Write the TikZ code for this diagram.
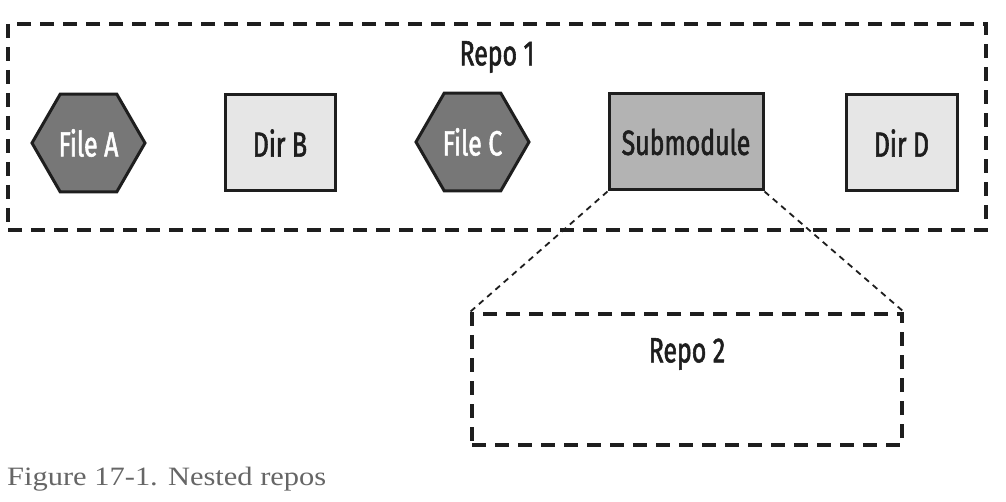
\documentclass[tikz,border=0pt]{standalone}
\usepackage{fontspec}
\usetikzlibrary{shapes.geometric}
\newfontfamily\dfont[FakeStretch=0.71,FakeBold=1.6]{Fira Sans}
\newfontfamily\capfont[FakeStretch=1.15]{Liberation Serif}
\definecolor{hexfill}{HTML}{777777}
\definecolor{dirfill}{HTML}{E6E6E6}
\definecolor{subfill}{HTML}{B3B3B3}
\definecolor{inkc}{HTML}{1E1E1E}
\definecolor{capc}{HTML}{666666}
\tikzset{
  lbl/.style={font=\dfont\fontsize{35}{40}\selectfont, text=inkc, inner sep=0pt},
  hexnode/.style={regular polygon, regular polygon sides=6, minimum size=113pt, inner sep=0pt,
    draw=inkc, line width=3pt, fill=hexfill, text=white, font=\dfont\fontsize{35}{40}\selectfont},
  dirnode/.style={rectangle, draw=inkc, line width=3pt, fill=dirfill, text=inkc, inner sep=0pt,
    minimum height=96pt, font=\dfont\fontsize{35}{40}\selectfont},
  subnode/.style={dirnode, fill=subfill},
  repobox/.style={rectangle, draw=inkc, line width=4pt, dash pattern=on 14pt off 9pt, inner sep=0pt},
  link/.style={draw=inkc, line width=1.8pt, dash pattern=on 6pt off 5pt},
  captext/.style={anchor=base west, inner sep=0pt, text=capc, font=\capfont\fontsize{26.5}{30}\selectfont}
}
\begin{document}
\begin{tikzpicture}[x=1pt,y=-1pt]
\useasboundingbox (0,0) rectangle (1006,502);
\fill[white] (0,0) rectangle (1006,502);
\node[repobox, minimum width=978pt, minimum height=206pt] (repo1) at (497,127) {};
\node[lbl] (repo1lbl) at (497,57) {Repo 1};
\node[hexnode] (filea) at (88.5,143) {File A};
\node[dirnode, minimum width=110pt] (dirb) at (280,143) {Dir B};
\node[hexnode] (filec) at (472.5,142) {File C};
\node[subnode, minimum width=154pt] (sub) at (686,142) {Submodule};
\node[dirnode, minimum width=111pt] (dird) at (901.5,143) {Dir D};
\node[repobox, minimum width=430pt, minimum height=131pt] (repo2) at (687,379.5) {};
\node[lbl] (repo2lbl) at (687,354) {Repo 2};
\draw[link] (sub.south west) -- (repo2.north west);
\draw[link] (sub.south east) -- (repo2.north east);
\node[captext] (cap) at (7,485) {Figure 17-1. Nested repos};
\end{tikzpicture}
\end{document}
